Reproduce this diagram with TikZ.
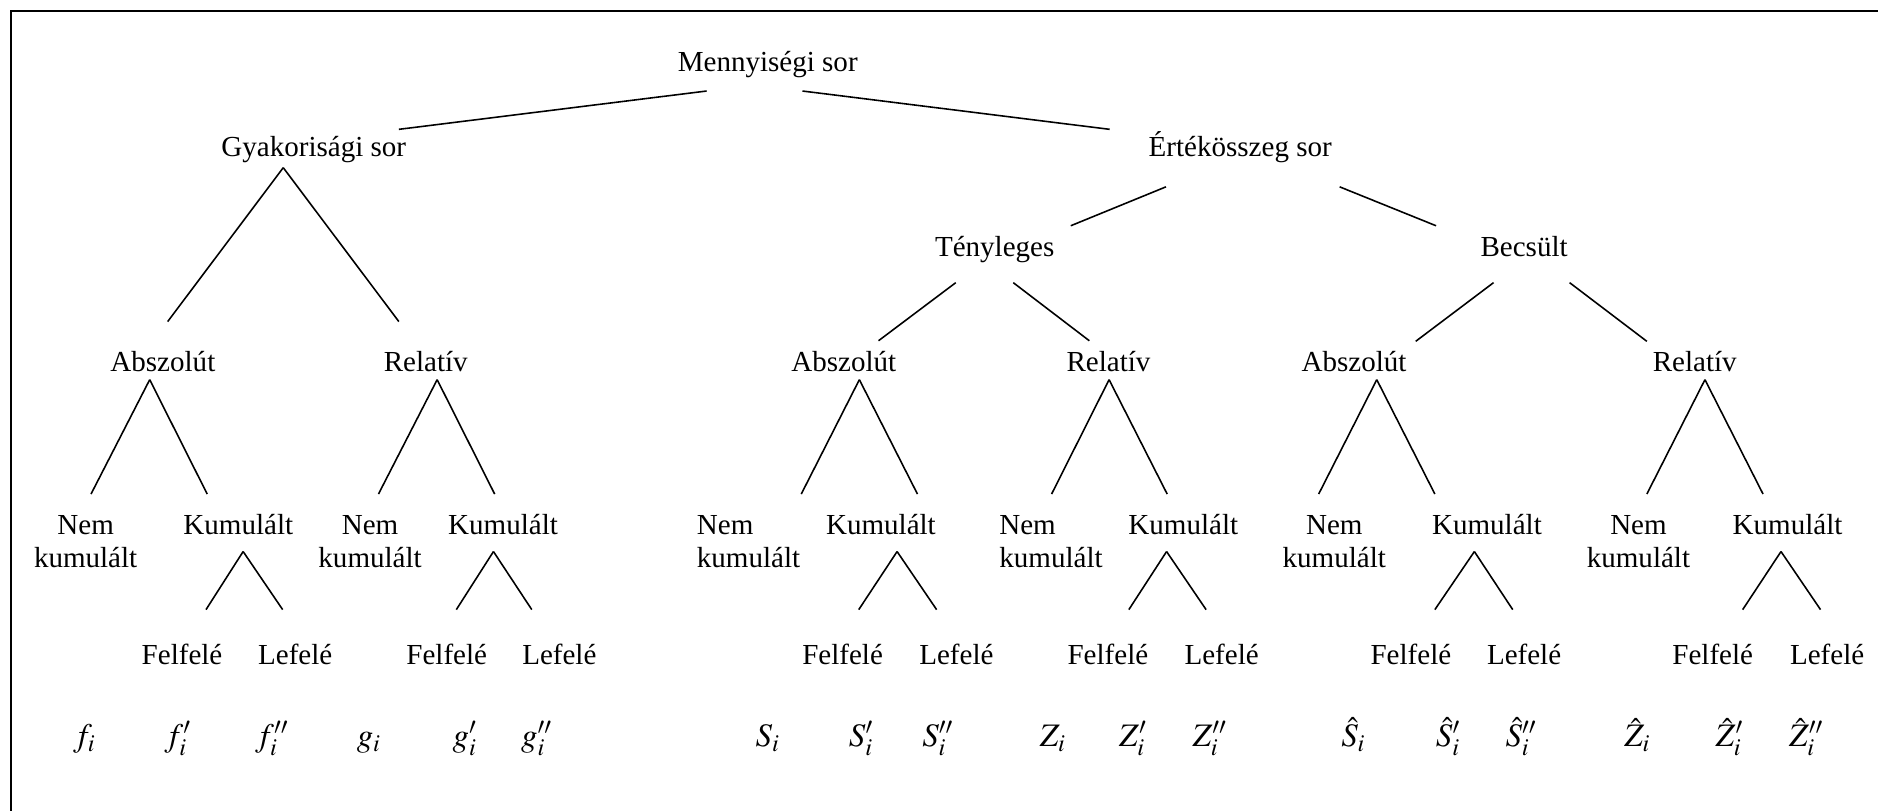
\documentclass[tikz,border=0pt]{standalone}
\usepackage{mathptmx}
\usepackage{fontspec}
\setmainfont{Liberation Serif}

\begin{document}
\begin{tikzpicture}[
  x=0.2mm, y=-0.2mm,
  font=\fontsize{13.8}{15.4}\selectfont,
  lbl/.style={anchor=base, inner sep=0pt, outer sep=0pt},
  pair/.style={lbl, align=center},
  pairleft/.style={lbl, align=left},
  sym/.style={lbl, font=\fontsize{15.6}{18}\selectfont},
  branch/.style={line width=0.75pt},
  frame/.style={line width=1pt}
]
\useasboundingbox (0,0) rectangle (1568,677);

% ---------- FRAME ----------
\draw[frame] (9,677) -- (9,9) -- (1568,9);

% ---------- UPPER LEVELS ----------
\node[lbl] (root) at (641,60) {Mennyiségi sor};
\node[lbl] (gyak) at (262,131) {Gyakorisági sor};
\node[lbl] (ertek) at (1035.5,131) {Értékösszeg sor};
\node[lbl] (teny) at (830.5,214) {Tényleges};
\node[lbl] (becs) at (1272.5,214) {Becsült};

\node[lbl] (absG) at (136,310) {Abszolút};
\node[lbl] (relG) at (355.5,310) {Relatív};
\node[lbl] (absT) at (704.5,310) {Abszolút};
\node[lbl] (relT) at (925.5,310) {Relatív};
\node[lbl] (absB) at (1130.5,310) {Abszolút};
\node[lbl] (relB) at (1415,310) {Relatív};

% ---------- CUMULATED OR NOT ----------
% (base of a two-line label is its second line)
\node[pair] (nkG) at (71.5,473.5) {Nem\\kumulált};
\node[lbl] (kumG) at (199,446.5) {Kumulált};
\node[pair] (nkGR) at (309,473.5) {Nem\\kumulált};
\node[lbl] (kumGR) at (420,446.5) {Kumulált};
\node[pairleft] (nkT) at (625,473.5) {Nem\\kumulált};
\node[lbl] (kumT) at (735.5,446.5) {Kumulált};
\node[pairleft] (nkTR) at (877.5,473.5) {Nem\\kumulált};
\node[lbl] (kumTR) at (988,446.5) {Kumulált};
\node[pair] (nkB) at (1114,473.5) {Nem\\kumulált};
\node[lbl] (kumB) at (1241.5,446.5) {Kumulált};
\node[pair] (nkBR) at (1368,473.5) {Nem\\kumulált};
\node[lbl] (kumBR) at (1492.5,446.5) {Kumulált};

% ---------- UP / DOWN ----------
\node[lbl] (felG) at (152,555) {Felfelé};
\node[lbl] (lefG) at (246.5,555) {Lefelé};
\node[lbl] (felGR) at (373,555) {Felfelé};
\node[lbl] (lefGR) at (467,555) {Lefelé};
\node[lbl] (felT) at (703.5,555) {Felfelé};
\node[lbl] (lefT) at (798.5,555) {Lefelé};
\node[lbl] (felTR) at (925,555) {Felfelé};
\node[lbl] (lefTR) at (1020,555) {Lefelé};
\node[lbl] (felB) at (1178,555) {Felfelé};
\node[lbl] (lefB) at (1272.5,555) {Lefelé};
\node[lbl] (felBR) at (1430,555) {Felfelé};
\node[lbl] (lefBR) at (1525.5,555) {Lefelé};

% ---------- SYMBOLS ----------
\node[sym] (f0) at (70.5,623.5) {$f_i$};
\node[sym] (f1) at (148.5,623.5) {$f'_i$};
\node[sym] (f2) at (227,623.5) {$f''_i$};
\node[sym] (g0) at (308,623.5) {$g_i$};
\node[sym] (g1) at (388,623.5) {$g'_i$};
\node[sym] (g2) at (448,623.5) {$g''_i$};
\node[sym] (S0) at (641,623.5) {$S_i$};
\node[sym] (S1) at (719,623.5) {$S'_i$};
\node[sym] (S2) at (783,623.5) {$S''_i$};
\node[sym] (Z0) at (879,623.5) {$Z_i$};
\node[sym] (Z1) at (946,623.5) {$Z'_i$};
\node[sym] (Z2) at (1010,623.5) {$Z''_i$};
\node[sym] (Sh0) at (1130,623.5) {$\hat{S}_i$};
\node[sym] (Sh1) at (1209,623.5) {$\hat{S}'_i$};
\node[sym] (Sh2) at (1270,623.5) {$\hat{S}''_i$};
\node[sym] (Zh0) at (1367,623.5) {$\hat{Z}_i$};
\node[sym] (Zh1) at (1444,623.5) {$\hat{Z}'_i$};
\node[sym] (Zh2) at (1508,623.5) {$\hat{Z}''_i$};

% ---------- BRANCHES ----------
\draw[branch] ([shift={(-51,16)}]root.base) -- ([shift={(71,-23)}]gyak.base);
\draw[branch] ([shift={(29,16)}]root.base) -- ([shift={(-109,-23)}]ertek.base);

\draw[branch] ([shift={(-25.5,9)}]gyak.base) -- ([shift={(4,-41.5)}]absG.base);
\draw[branch] ([shift={(-25.5,9)}]gyak.base) -- ([shift={(-22.5,-41.5)}]relG.base);

\draw[branch] ([shift={(-62,25)}]ertek.base) -- ([shift={(63.5,-25.5)}]teny.base);
\draw[branch] ([shift={(83,25)}]ertek.base) -- ([shift={(-73.5,-25.5)}]becs.base);

\draw[branch] ([shift={(-32.5,22)}]teny.base) -- ([shift={(29,-25.5)}]absT.base);
\draw[branch] ([shift={(15.5,22)}]teny.base) -- ([shift={(-16,-25.5)}]relT.base);
\draw[branch] ([shift={(-25.5,22)}]becs.base) -- ([shift={(51.5,-25)}]absB.base);
\draw[branch] ([shift={(38,22)}]becs.base) -- ([shift={(-40,-25)}]relB.base);

% absolute / relative -> cumulated or not
\draw[branch] ([shift={(-11,7)}]absG.base) -- ([shift={(4.5,-61)}]nkG.base);
\draw[branch] ([shift={(-11,7)}]absG.base) -- ([shift={(-26,-34)}]kumG.base);
\draw[branch] ([shift={(9.5,7)}]relG.base) -- ([shift={(7,-61)}]nkGR.base);
\draw[branch] ([shift={(9.5,7)}]relG.base) -- ([shift={(-7,-34)}]kumGR.base);
\draw[branch] ([shift={(13,7)}]absT.base) -- ([shift={(44,-61)}]nkT.base);
\draw[branch] ([shift={(13,7)}]absT.base) -- ([shift={(30.5,-34)}]kumT.base);
\draw[branch] ([shift={(0.5,7)}]relT.base) -- ([shift={(0.5,-61)}]nkTR.base);
\draw[branch] ([shift={(0.5,7)}]relT.base) -- ([shift={(-13.5,-34)}]kumTR.base);
\draw[branch] ([shift={(19,7)}]absB.base) -- ([shift={(-13,-61)}]nkB.base);
\draw[branch] ([shift={(19,7)}]absB.base) -- ([shift={(-43.5,-34)}]kumB.base);
\draw[branch] ([shift={(8.5,7)}]relB.base) -- ([shift={(7,-61)}]nkBR.base);
\draw[branch] ([shift={(8.5,7)}]relB.base) -- ([shift={(-20.5,-34)}]kumBR.base);

% cumulated -> up / down
\draw[branch] ([shift={(4,14)}]kumG.base) -- ([shift={(20,-46)}]felG.base);
\draw[branch] ([shift={(4,14)}]kumG.base) -- ([shift={(-10.5,-46)}]lefG.base);
\draw[branch] ([shift={(-8,14)}]kumGR.base) -- ([shift={(8,-46)}]felGR.base);
\draw[branch] ([shift={(-8,14)}]kumGR.base) -- ([shift={(-23,-46)}]lefGR.base);
\draw[branch] ([shift={(13.5,14)}]kumT.base) -- ([shift={(13.5,-46)}]felT.base);
\draw[branch] ([shift={(13.5,14)}]kumT.base) -- ([shift={(-16.5,-46)}]lefT.base);
\draw[branch] ([shift={(-14,14)}]kumTR.base) -- ([shift={(17.5,-46)}]felTR.base);
\draw[branch] ([shift={(-14,14)}]kumTR.base) -- ([shift={(-13,-46)}]lefTR.base);
\draw[branch] ([shift={(-10.5,14)}]kumB.base) -- ([shift={(20,-46)}]felB.base);
\draw[branch] ([shift={(-10.5,14)}]kumB.base) -- ([shift={(-9.5,-46)}]lefB.base);
\draw[branch] ([shift={(-5.5,14)}]kumBR.base) -- ([shift={(25,-46)}]felBR.base);
\draw[branch] ([shift={(-5.5,14)}]kumBR.base) -- ([shift={(-5.5,-46)}]lefBR.base);

\end{tikzpicture}
\end{document}
